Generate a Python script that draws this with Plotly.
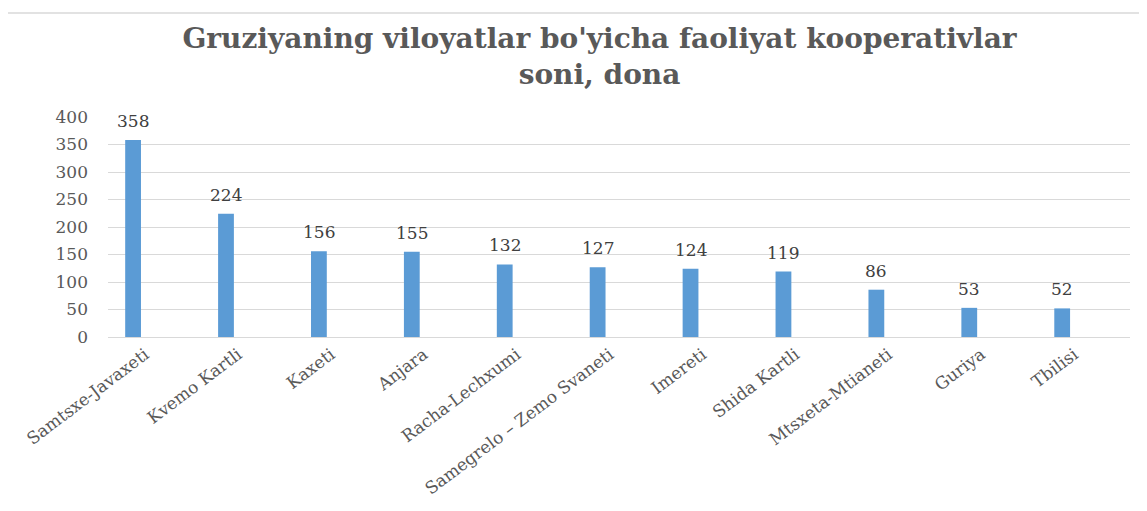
import plotly.graph_objects as go

regions = ["Samtsxe-Javaxeti", "Kvemo Kartli", "Kaxeti", "Anjara", "Racha-Lechxumi",
           "Samegrelo – Zemo Svaneti", "Imereti", "Shida Kartli", "Mtsxeta-Mtianeti",
           "Guriya", "Tbilisi"]
counts = [358, 224, 156, 155, 132, 127, 124, 119, 86, 53, 52]
y_ticks = [0, 50, 100, 150, 200, 250, 300, 350, 400]

SERIF = "DejaVu Serif, Liberation Serif, serif"

fig = go.Figure(go.Bar(
    x=regions, y=counts,
    marker=dict(color="#5b9bd5", line=dict(width=0)),
    width=0.17, cliponaxis=False,
))

# data labels above bars
for r, c in zip(regions, counts):
    fig.add_annotation(x=r, y=c, text=str(c), showarrow=False, yanchor="bottom",
                       yshift=7, font=dict(family=SERIF, size=17, color="#404040"))

# page body has an 8px margin, so the figure is made 16px smaller
W, H = 1131, 495
L, R, T, B = 100, 9, 109, 166
pw, ph = W - L - R, H - T - B

fig.update_layout(
    width=W, height=H,
    margin=dict(l=L, r=R, t=T, b=B, autoexpand=False),
    paper_bgcolor="white", plot_bgcolor="white",
    showlegend=False,
    title=dict(
        text="Gruziyaning viloyatlar bo'yicha faoliyat kooperativlar<br>soni, dona",
        x=0.523, xanchor="center", y=1 - 40 / H, yanchor="top", yref="container",
        font=dict(family=SERIF, size=28, color="#595959", weight="bold"),
    ),
    xaxis=dict(
        type="category", range=[-0.27, 10.73], tickangle=-37, automargin=False,
        tickfont=dict(family=SERIF, size=17, color="#595959"),
        showgrid=False, showline=True, linecolor="#d9d9d9", linewidth=1,
        ticks="", fixedrange=True, ticklabelshift=12,
    ),
    yaxis=dict(
        range=[0, 400], tickvals=y_ticks, automargin=False,
        tickfont=dict(family=SERIF, size=17, color="#595959"),
        showgrid=True, gridcolor="#d9d9d9", gridwidth=1,
        zeroline=False, showline=False, ticks="", ticklabelstandoff=19,
    ),
    shapes=[dict(
        type="rect", xref="paper", yref="paper",
        x0=(-1 - L) / pw, x1=(W + 20 - L) / pw,
        y0=(H - B - (H + 20)) / ph, y1=(H - B - 5) / ph,
        line=dict(color="#d9d9d9", width=1.5), fillcolor="rgba(0,0,0,0)", layer="below",
    )],
)

fig.write_html("out.html")
